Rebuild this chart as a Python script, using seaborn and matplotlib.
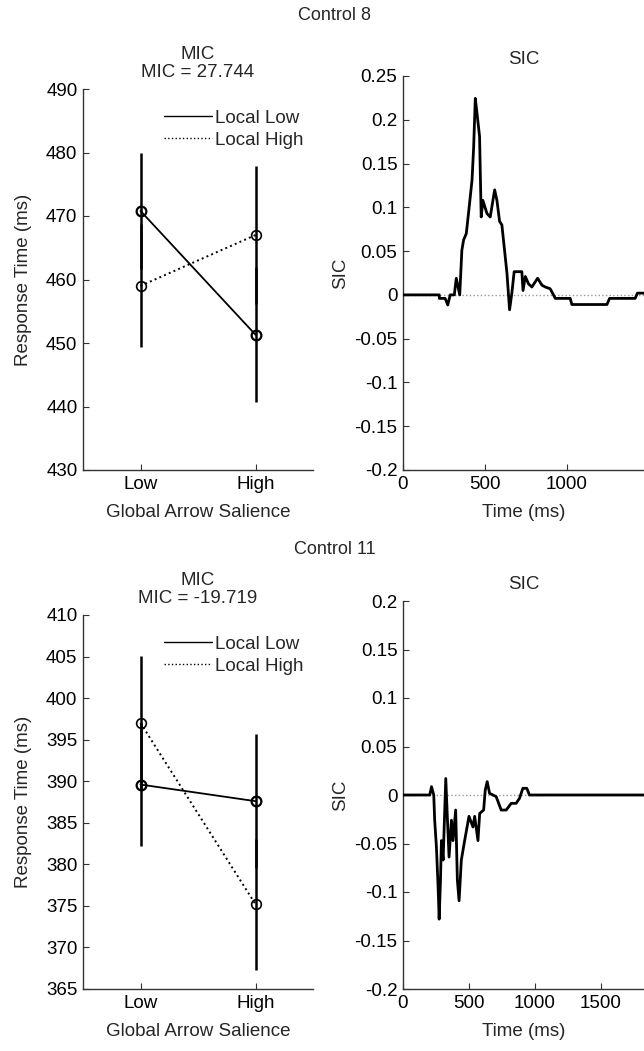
import numpy as np
import pandas as pd
import matplotlib
matplotlib.use("Agg")
import matplotlib.pyplot as plt
import seaborn as sns

sns.set_theme(style="white")
plt.rcParams['font.family'] = ['Liberation Sans', 'DejaVu Sans']
FS = 13.5

# ---------------- data ----------------
salience_labels = ["Low", "High"]
salience_pos = [1, 2]

# Control 8
c8_local_low = [470.8, 451.3]
c8_local_high = [459.0, 467.0]
c8_err_low = [9.2, 10.6]
c8_err_high = [9.7, 10.8]
c8_mic = "MIC = 27.744"

c8_sic_t = [0, 221, 222, 257, 273, 288, 313, 325, 346, 359, 370, 386, 400, 421, 431, 441,
            451, 467, 477, 487, 512, 532, 559, 573, 589, 603, 634, 650, 664, 678, 725, 732,
            746, 766, 786, 821, 848, 868, 898, 929, 1020, 1030, 1244, 1260, 1416, 1430, 1470]
c8_sic_v = [0, 0, -0.004, -0.004, -0.0115, 0, 0, 0.019, 0, 0.051, 0.063, 0.070, 0.094, 0.131,
            0.169, 0.2245, 0.208, 0.181, 0.089, 0.108, 0.093, 0.089, 0.120, 0.108, 0.084, 0.080,
            0.025, -0.017, 0.002, 0.0265, 0.0265, 0.005, 0.021, 0.0125, 0.009, 0.019, 0.011,
            0.009, 0.007, -0.004, -0.004, -0.011, -0.011, -0.004, -0.004, 0.002, 0.002]

# Control 11
c11_local_low = [389.6, 387.6]
c11_local_high = [397.0, 375.2]
c11_err_low = [7.4, 8.1]
c11_err_high = [8.1, 7.9]
c11_mic = "MIC = -19.719"

c11_sic_t = [0, 203, 216, 233, 240, 253, 266, 274, 284, 291, 304, 324, 337, 349, 367, 379, 399,
             412, 425, 442, 467, 500, 530, 543, 568, 581, 611, 623, 638, 656, 706, 744, 782,
             820, 857, 883, 908, 938, 958, 1830]
c11_sic_v = [0, 0, 0.0086, 0, -0.026, -0.053, -0.095, -0.128, -0.088, -0.047, -0.067, 0.017,
             -0.026, -0.064, -0.026, -0.047, -0.0155, -0.088, -0.109, -0.067, -0.047, -0.022,
             -0.033, -0.022, -0.047, -0.019, -0.0155, 0.005, 0.0138, 0.0017, -0.0017, -0.0155,
             -0.0155, -0.0086, -0.0086, -0.0034, 0.0069, 0.0069, 0, 0]

panels = [
    dict(title="Control 8", low=c8_local_low, high=c8_local_high, elow=c8_err_low,
         ehigh=c8_err_high, mic=c8_mic, ylim=(430, 490), yticks=np.arange(430, 491, 10),
         t=c8_sic_t, v=c8_sic_v, sxlim=(0, 1470), sxticks=[0, 500, 1000],
         sylim=(-0.2, 0.25), syticks=[-0.2, -0.15, -0.1, -0.05, 0, 0.05, 0.1, 0.15, 0.2, 0.25]),
    dict(title="Control 11", low=c11_local_low, high=c11_local_high, elow=c11_err_low,
         ehigh=c11_err_high, mic=c11_mic, ylim=(365, 410), yticks=np.arange(365, 411, 5),
         t=c11_sic_t, v=c11_sic_v, sxlim=(0, 1826), sxticks=[0, 500, 1000, 1500],
         sylim=(-0.2, 0.2), syticks=[-0.2, -0.15, -0.1, -0.05, 0, 0.05, 0.1, 0.15, 0.2]),
]

W, H = 644, 1051
fig = plt.figure(figsize=(W / 100, H / 100), dpi=100)

def rect(x0, y0, x1, y1):
    return [x0 / W, 1 - y1 / H, (x1 - x0) / W, (y1 - y0) / H]

layout = [
    dict(left=rect(83, 89, 313, 470), right=rect(403, 76, 644, 470), sup=15),
    dict(left=rect(83, 615, 313, 989), right=rect(403, 601, 644, 989), sup=549),
]

def fmt(v):
    s = ("%.2f" % v).rstrip('0').rstrip('.')
    if s == "-0":
        s = "0"
    return s

def style_axes(ax):
    sns.despine(ax=ax)
    for sp in ["left", "bottom"]:
        ax.spines[sp].set_color("#333333")
        ax.spines[sp].set_linewidth(1.0)
    ax.tick_params(direction="in", length=4, width=0.8, colors="#333333",
                   labelsize=FS, labelcolor="black", left=True, bottom=True, pad=4)
    ax.set_facecolor("white")
    ax.grid(False)

for p, lay in zip(panels, layout):
    fig.text(335 / W, 1 - lay["sup"] / H, p["title"], ha="center", va="center", fontsize=FS - 0.5)

    # MIC panel
    ax = fig.add_axes(lay["left"])
    df = pd.DataFrame({
        "x": salience_pos * 2,
        "rt": p["low"] + p["high"],
        "series": ["Local Low"] * 2 + ["Local High"] * 2,
    })
    for name, err in [("Local High", p["ehigh"]), ("Local Low", p["elow"])]:
        d = df[df.series == name]
        ax.vlines(d["x"], d["rt"] - np.array(err), d["rt"] + np.array(err),
                  colors="black", linewidth=1.8, zorder=2)
    sns.lineplot(data=df[df.series == "Local Low"], x="x", y="rt", ax=ax, color="black",
                 linestyle="-", linewidth=1.3, marker="o", markersize=7, markerfacecolor="none",
                 markeredgecolor="black", markeredgewidth=1.6, label="Local Low", zorder=3)
    sns.lineplot(data=df[df.series == "Local High"], x="x", y="rt", ax=ax, color="black",
                 linestyle=":", linewidth=1.4, marker="o", markersize=7, markerfacecolor="none",
                 markeredgecolor="black", markeredgewidth=1.2, label="Local High", zorder=3)
    ax.set_xlim(0.5, 2.5)
    ax.set_ylim(*p["ylim"])
    ax.set_yticks(p["yticks"])
    ax.set_xticks(salience_pos)
    ax.set_xticklabels(salience_labels)
    ax.set_xlabel("Global Arrow Salience", fontsize=FS, labelpad=8)
    ax.set_ylabel("Response Time (ms)", fontsize=FS, labelpad=10)
    ax.set_title("MIC\n" + p["mic"], fontsize=FS, linespacing=1.12, pad=8.5)
    style_axes(ax)
    leg = ax.legend(loc="upper right", frameon=False, fontsize=FS, handlelength=2.6,
                    handletextpad=0.15, borderaxespad=0.1, labelspacing=0.25,
                    bbox_to_anchor=(1.0, 0.97))
    for h in leg.get_lines():
        h.set_marker("")
        h.set_linewidth(1.0)

    # SIC panel
    ax2 = fig.add_axes(lay["right"])
    ax2.axhline(0, color="#999999", linestyle=":", linewidth=1.0, zorder=1)
    sdf = pd.DataFrame({"t": p["t"], "sic": p["v"]})
    sns.lineplot(data=sdf, x="t", y="sic", ax=ax2, color="black", linewidth=2.0,
                 sort=False, estimator=None, zorder=3)
    ax2.set_xlim(*p["sxlim"])
    ax2.set_ylim(*p["sylim"])
    ax2.set_xticks(p["sxticks"])
    ax2.set_yticks(p["syticks"])
    ax2.set_yticklabels([fmt(v) for v in p["syticks"]])
    ax2.set_xlabel("Time (ms)", fontsize=FS, labelpad=8)
    ax2.set_ylabel("SIC", fontsize=FS, labelpad=4)
    ax2.set_title("SIC", fontsize=FS, pad=8.5)
    style_axes(ax2)

fig.savefig("out.png", dpi=100, facecolor="white")
